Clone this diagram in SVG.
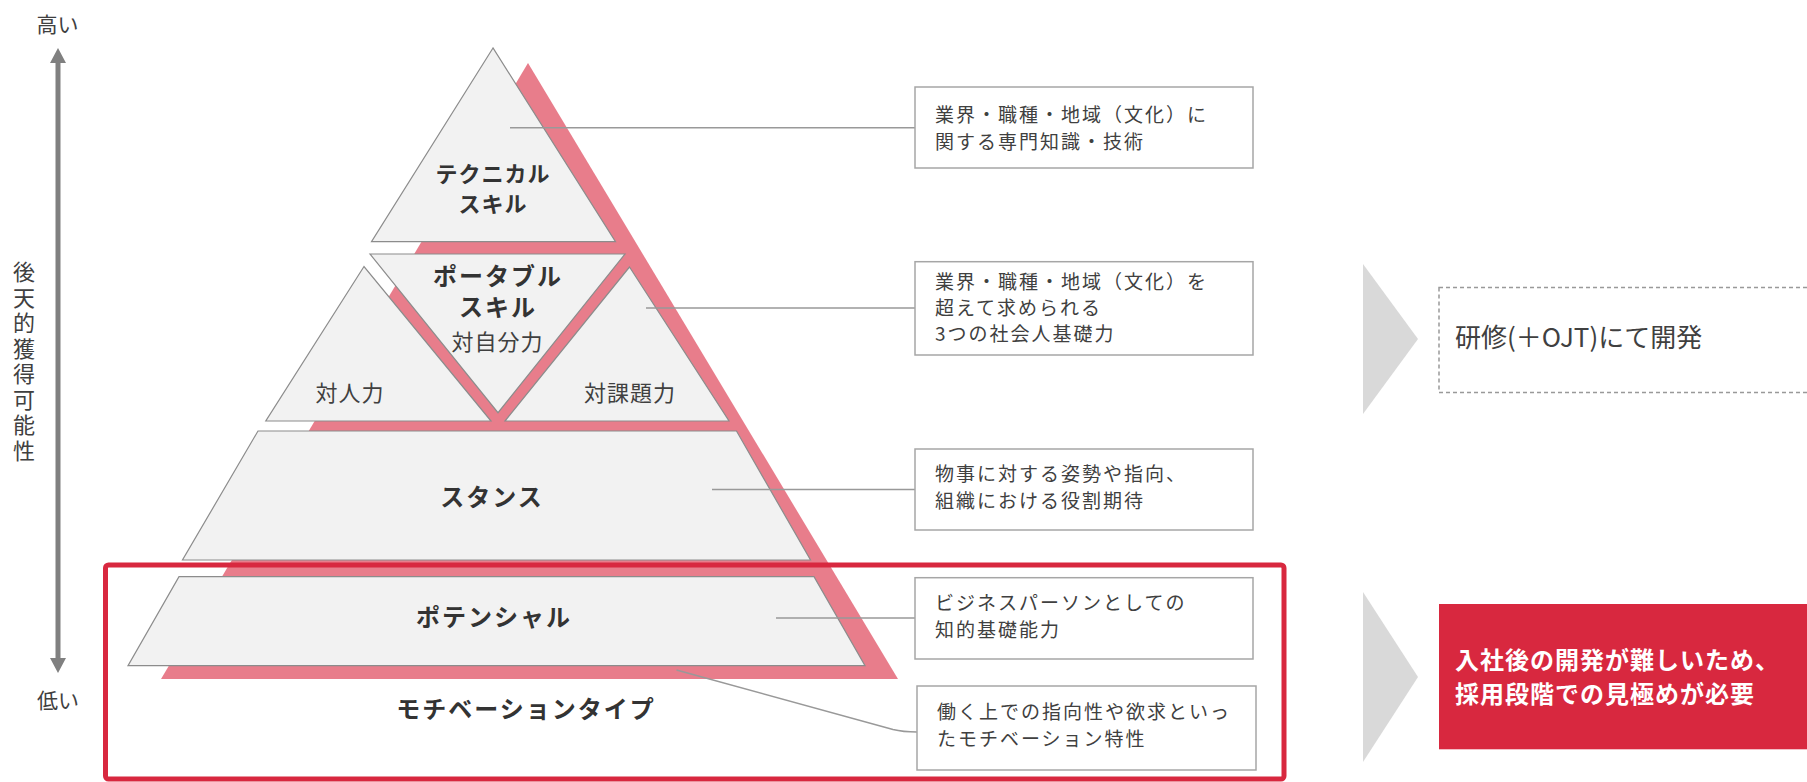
<svg xmlns="http://www.w3.org/2000/svg" width="1807" height="782" viewBox="0 0 1807 782">
<style>
.jp{font-family:"Noto Sans CJK JP","Noto Sans",sans-serif}
.piece{fill:#f2f2f2;stroke:#8c8c8c;stroke-width:1.2}
.lbl{font-family:"Noto Sans CJK JP",sans-serif;font-weight:700;fill:#333333;text-anchor:middle;letter-spacing:2px}
.sub{font-family:"Noto Sans CJK JP",sans-serif;font-size:22px;fill:#404040;text-anchor:middle;letter-spacing:1px}
.box{fill:#ffffff;stroke:#a6a6a6;stroke-width:1.5}
.desc{font-family:"Noto Sans CJK JP",sans-serif;font-size:19px;fill:#404040;letter-spacing:2px}
.conn{fill:none;stroke:#999999;stroke-width:1.5}
.axis{font-family:"Noto Sans CJK JP",sans-serif;font-size:21px;fill:#404040;text-anchor:middle}
.vert{font-family:"Noto Sans CJK JP",sans-serif;font-size:22px;fill:#404040;writing-mode:vertical-rl;letter-spacing:3.5px}
.chev{fill:#d9d9d9}
</style>

<g id="axis">
  <line x1="58" y1="62" x2="58" y2="659" stroke="#808080" stroke-width="5"/>
  <polygon points="58,48 50,63 66,63" fill="#808080"/>
  <polygon points="58,673 50,658 66,658" fill="#808080"/>
  <text class="axis" x="57.5" y="31.5">高い</text>
  <text class="axis" x="58" y="708">低い</text>
  <text class="vert" x="24" y="261">後天的獲得可能性</text>
</g>

<g id="pink-shadow">
  <polygon points="528,63 161,679 898,679" fill="#e87d8b"/>
</g>

<g id="technical">
  <polygon class="piece" points="493,48 371.5,241.7 615.5,241.7"/>
  <text class="lbl" font-size="22" x="493" y="182" style="letter-spacing:1px">テクニカル<tspan x="493" dy="30">スキル</tspan></text>
</g>

<g id="portable">
  <polygon class="piece" points="370,254 625,254 498,412.7"/>
  <text class="lbl" font-size="24" x="498" y="285">ポータブル<tspan x="498" dy="31">スキル</tspan></text>
  <text class="sub" x="497.5" y="349.5">対自分力</text>
</g>

<g id="interpersonal">
  <polygon class="piece" points="364,266.5 265.8,421 491,421"/>
  <text class="sub" x="350" y="401">対人力</text>
</g>

<g id="task">
  <polygon class="piece" points="629.5,267 505,421 729,421"/>
  <text class="sub" x="630" y="401">対課題力</text>
</g>

<g id="stance">
  <polygon class="piece" points="258,431 736.5,431 810.5,560 182.5,560"/>
  <text class="lbl" font-size="24" x="492" y="506">スタンス</text>
</g>

<g id="potential">
  <polygon class="piece" points="179,576.7 814,576.7 865,665.7 128,665.7"/>
  <text class="lbl" font-size="24" x="494" y="626">ポテンシャル</text>
</g>

<g id="motivation">
  <text class="lbl" font-size="24" x="526" y="718">モチベーションタイプ</text>
</g>

<g id="connectors">
  <line class="conn" x1="510" y1="127.7" x2="915" y2="127.7"/>
  <line class="conn" x1="646" y1="308" x2="915" y2="308"/>
  <line class="conn" x1="712" y1="489.5" x2="915" y2="489.5"/>
  <line class="conn" x1="776" y1="618" x2="915" y2="618"/>
  <path class="conn" d="M676.5,670 L893,729.5 Q903,732 917,732"/>
</g>

<g id="desc-technical">
  <rect class="box" x="915" y="87" width="338" height="81"/>
  <text class="desc" x="935" y="122">業界・職種・地域（文化）に<tspan x="935" dy="27">関する専門知識・技術</tspan></text>
</g>

<g id="desc-portable">
  <rect class="box" x="915" y="261.7" width="338" height="93.3"/>
  <text class="desc" x="935" y="289">業界・職種・地域（文化）を<tspan x="935" dy="26">超えて求められる</tspan><tspan x="935" dy="26">3つの社会人基礎力</tspan></text>
</g>

<g id="desc-stance">
  <rect class="box" x="915" y="449" width="338" height="81"/>
  <text class="desc" x="935" y="481">物事に対する姿勢や指向、<tspan x="935" dy="27">組織における役割期待</tspan></text>
</g>

<g id="desc-potential">
  <rect class="box" x="915" y="577.7" width="338" height="81.3"/>
  <text class="desc" x="935" y="610">ビジネスパーソンとしての<tspan x="935" dy="27">知的基礎能力</tspan></text>
</g>

<g id="desc-motivation">
  <rect class="box" x="917" y="686" width="339" height="84"/>
  <text class="desc" x="937" y="719">働く上での指向性や欲求といっ<tspan x="937" dy="27">たモチベーション特性</tspan></text>
</g>

<g id="highlight-frame">
  <rect x="105.5" y="565" width="1178.5" height="214" rx="3" fill="none" stroke="#d8283f" stroke-width="5"/>
</g>

<g id="chevron-top">
  <polygon class="chev" points="1363,264 1418,339 1363,414"/>
</g>

<g id="training">
  <rect x="1439" y="287.5" width="380" height="105" fill="none" stroke="#999999" stroke-width="1.5" stroke-dasharray="4,3"/>
  <text class="jp" x="1455" y="346.5" font-size="26" fill="#404040">研修(＋OJT)にて開発</text>
</g>

<g id="chevron-bottom">
  <polygon class="chev" points="1363,592 1418,677 1363,762"/>
</g>

<g id="selection">
  <rect x="1439" y="604" width="380" height="145.3" fill="#d8283f"/>
  <text class="jp" x="1455" y="669" font-size="24" font-weight="700" fill="#ffffff" letter-spacing="1">入社後の開発が難しいため、<tspan x="1455" dy="34">採用段階での見極めが必要</tspan></text>
</g>
</svg>
